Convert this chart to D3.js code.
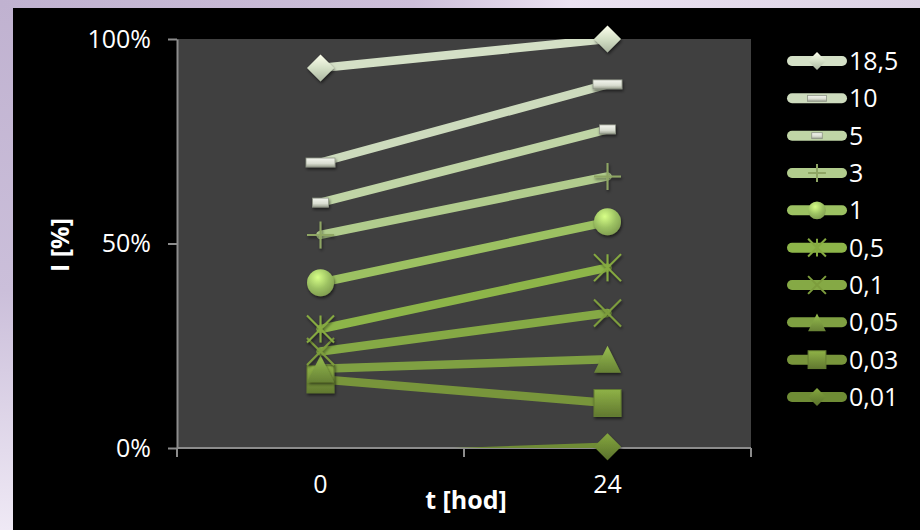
<!DOCTYPE html>
<html>
<head>
<meta charset="utf-8">
<script src="https://cdn.jsdelivr.net/npm/d3@7"></script>
<style>
  html, body { margin: 0; padding: 0; }
  svg { display: block; }
  text { font-family: "Open Sans", "Noto Sans", sans-serif; }
</style>
</head>
<body>
<svg id="chart" width="920" height="530"></svg>
<script>
// Time points (hours) on the x axis
const times = ["0", "24"];

// Series names shown in the legend
const seriesNames = ["18,5", "10", "5", "3", "1", "0,5", "0,1", "0,05", "0,03", "0,01"];

// Inhibition (fraction) per series at t = 0 and t = 24
const v18_5 = [0.929, 1.000];
const v10   = [0.698, 0.889];
const v5    = [0.600, 0.779];
const v3    = [0.521, 0.664];
const v1    = [0.404, 0.553];
const v0_5  = [0.291, 0.441];
const v0_1  = [0.236, 0.330];
const v0_05 = [0.194, 0.217];
const v0_03 = [0.168, 0.110];
const v0_01 = [-0.022, 0.003];
const seriesValues = [v18_5, v10, v5, v3, v1, v0_5, v0_1, v0_05, v0_03, v0_01];

// Line colours, pale to dark green
const seriesColors = ["#d4e0c6", "#cddbbd", "#c0d5a6", "#b1cc8d", "#9cc162",
                      "#8db549", "#85a945", "#7fa042", "#78953b", "#6f8c35"];
const seriesMarkers = ["diamond", "dash", "shortdash", "plus", "circle",
                       "star", "x", "triangle", "square", "diamond"];

// Y axis ticks
const yTicks = [0, 0.5, 1];
const yTickLabels = ["0%", "50%", "100%"];

const svg = d3.select("#chart");
const W = 920, H = 530;
const plot = { left: 177, right: 751, top: 39, bottom: 448 };

const x = d3.scaleBand().domain(times).range([plot.left, plot.right]);
const y = d3.scaleLinear().domain([0, 1]).range([plot.bottom, plot.top]);
const xc = d => x(d) + x.bandwidth() / 2;

const defs = svg.append("defs");

// Page background: soft lavender gradient
const bgTop = defs.append("linearGradient").attr("id", "bgTop")
  .attr("x1", "0").attr("y1", "0").attr("x2", "1").attr("y2", "0");
bgTop.append("stop").attr("offset", "0%").attr("stop-color", "#c0b2d0");
bgTop.append("stop").attr("offset", "45%").attr("stop-color", "#cdbfd9");
bgTop.append("stop").attr("offset", "62%").attr("stop-color", "#ebe2f1");
bgTop.append("stop").attr("offset", "100%").attr("stop-color", "#dcd2e4");
const bgLeft = defs.append("linearGradient").attr("id", "bgLeft")
  .attr("x1", "0").attr("y1", "0").attr("x2", "0").attr("y2", "1");
bgLeft.append("stop").attr("offset", "0%").attr("stop-color", "#c0b2d0");
bgLeft.append("stop").attr("offset", "55%").attr("stop-color", "#cbbfda");
bgLeft.append("stop").attr("offset", "100%").attr("stop-color", "#efe9f5");

svg.append("rect").attr("width", W).attr("height", H).attr("fill", "url(#bgLeft)");
svg.append("rect").attr("width", W).attr("height", 8).attr("fill", "url(#bgTop)");

// Chart panel
svg.append("rect").attr("x", 13).attr("y", 8).attr("width", W - 13).attr("height", H - 8)
  .attr("fill", "#000");

// Plot area
svg.append("rect")
  .attr("x", plot.left).attr("y", plot.top)
  .attr("width", plot.right - plot.left).attr("height", plot.bottom - plot.top)
  .attr("fill", "#404040");

defs.append("clipPath").attr("id", "plotClip")
  .append("rect")
  .attr("x", plot.left).attr("y", plot.top)
  .attr("width", plot.right - plot.left).attr("height", plot.bottom - plot.top);

// Marker shadow
const sh = defs.append("filter").attr("id", "mshadow")
  .attr("x", "-50%").attr("y", "-50%").attr("width", "200%").attr("height", "200%");
sh.append("feDropShadow").attr("dx", 1).attr("dy", 2).attr("stdDeviation", 1.6)
  .attr("flood-color", "#000").attr("flood-opacity", 0.55);

// Per-series shading gradients for markers
seriesColors.forEach((c, i) => {
  const base = d3.color(c);
  const lg = defs.append("linearGradient").attr("id", "mg" + i)
    .attr("x1", "0").attr("y1", "0").attr("x2", "0").attr("y2", "1");
  lg.append("stop").attr("offset", "0%").attr("stop-color", base.brighter(0.5));
  lg.append("stop").attr("offset", "50%").attr("stop-color", base);
  lg.append("stop").attr("offset", "100%").attr("stop-color", base.darker(0.6));
  const rg = defs.append("radialGradient").attr("id", "rg" + i)
    .attr("cx", "40%").attr("cy", "30%").attr("r", "70%");
  rg.append("stop").attr("offset", "0%").attr("stop-color", base.brighter(0.9));
  rg.append("stop").attr("offset", "60%").attr("stop-color", base);
  rg.append("stop").attr("offset", "100%").attr("stop-color", base.darker(0.5));
});
const dg = defs.append("linearGradient").attr("id", "dashGrad")
  .attr("x1", "0").attr("y1", "0").attr("x2", "0").attr("y2", "1");
dg.append("stop").attr("offset", "0%").attr("stop-color", "#f4f6ef");
dg.append("stop").attr("offset", "60%").attr("stop-color", "#d9ddd1");
dg.append("stop").attr("offset", "100%").attr("stop-color", "#9aa08f");

// Draws one marker into group g, centred at (0,0), scale k
function drawMarker(g, type, i, k) {
  const c = seriesColors[i];
  const s = 13.5 * k;
  const strokeDark = d3.color(c).darker(0.5);
  switch (type) {
    case "diamond":
      g.append("path").attr("d", `M0,${-s}L${s},0L0,${s}L${-s},0Z`)
        .attr("fill", `url(#mg${i})`);
      break;
    case "square":
      g.append("rect").attr("x", -s).attr("y", -s).attr("width", 2 * s).attr("height", 2 * s)
        .attr("fill", `url(#mg${i})`).attr("stroke", strokeDark).attr("stroke-width", 1);
      break;
    case "triangle":
      g.append("path").attr("d", `M0,${-s}L${s},${s}L${-s},${s}Z`)
        .attr("fill", `url(#mg${i})`);
      break;
    case "circle":
      g.append("circle").attr("r", s).attr("fill", `url(#rg${i})`);
      break;
    case "dash":
      g.append("rect").attr("x", -14.5 * k).attr("y", -4.5 * k)
        .attr("width", 29 * k).attr("height", 9 * k)
        .attr("fill", "url(#dashGrad)").attr("stroke", "#8e9486").attr("stroke-width", 0.8);
      break;
    case "shortdash":
      g.append("rect").attr("x", -8 * k).attr("y", -4.5 * k)
        .attr("width", 16 * k).attr("height", 9 * k)
        .attr("fill", "url(#dashGrad)").attr("stroke", "#8e9486").attr("stroke-width", 0.8);
      break;
    case "plus":
      g.append("path").attr("d", `M${-s},0H${s}M0,${-s}V${s}`)
        .attr("stroke", "#8ea564").attr("stroke-width", 2).attr("fill", "none");
      break;
    case "x":
      g.append("path").attr("d", `M${-s},${-s}L${s},${s}M${-s},${s}L${s},${-s}`)
        .attr("stroke", "#7d9d3d").attr("stroke-width", 2).attr("fill", "none");
      break;
    case "star":
      g.append("path").attr("d", `M${-s},${-s}L${s},${s}M${-s},${s}L${s},${-s}M0,${-s}V${s}`)
        .attr("stroke", "#86ab40").attr("stroke-width", 2).attr("fill", "none");
      break;
  }
}

// Axes
const axisColor = "#8c8c8c";
const yAxis = d3.axisLeft(y).tickValues(yTicks)
  .tickFormat((d, i) => yTickLabels[i]).tickSize(9).tickSizeOuter(0).tickPadding(17);
const yg = svg.append("g").attr("transform", `translate(${plot.left},0)`).call(yAxis);
yg.select(".domain").attr("stroke", axisColor).attr("stroke-width", 2);
yg.selectAll(".tick line").attr("stroke", axisColor).attr("stroke-width", 2);
yg.selectAll(".tick text").attr("fill", "#fff").attr("font-size", 25)
  .attr("font-family", "'Open Sans', sans-serif");

// X axis: line, tick marks at category boundaries, centred labels
const xBounds = times.map(t => x(t)).concat([x(times[times.length - 1]) + x.bandwidth()]);
const xg = svg.append("g");
xg.append("line").attr("x1", plot.left).attr("x2", plot.right)
  .attr("y1", plot.bottom).attr("y2", plot.bottom)
  .attr("stroke", axisColor).attr("stroke-width", 2);
xg.selectAll("line.tk").data(xBounds).join("line").attr("class", "tk")
  .attr("x1", d => d).attr("x2", d => d)
  .attr("y1", plot.bottom).attr("y2", plot.bottom + 9)
  .attr("stroke", axisColor).attr("stroke-width", 2);
xg.selectAll("text").data(times).join("text")
  .attr("x", d => xc(d)).attr("y", plot.bottom + 45)
  .attr("text-anchor", "middle").attr("fill", "#fff").attr("font-size", 25)
  .text(d => d);

// Axis titles
svg.append("text").attr("x", 466).attr("y", 509).attr("text-anchor", "middle")
  .attr("fill", "#fff").attr("font-size", 25).attr("font-weight", "bold").text("t [hod]");
svg.append("text").attr("transform", "translate(69,245) rotate(-90)")
  .attr("text-anchor", "middle").attr("fill", "#fff").attr("font-size", 25)
  .attr("font-weight", "bold").text("I [%]");

// Series, darkest first so the paler ones sit on top
const order = d3.range(seriesNames.length).reverse();
const lineGen = d3.line().x((d, j) => xc(times[j])).y(d => y(d));

const linesG = svg.append("g").attr("clip-path", "url(#plotClip)");
order.forEach(i => {
  linesG.append("path").datum(seriesValues[i])
    .attr("d", lineGen).attr("fill", "none")
    .attr("stroke", seriesColors[i]).attr("stroke-width", 8.5)
    .attr("stroke-linecap", "round").attr("stroke-linejoin", "round");
});

const markersG = svg.append("g");
order.forEach(i => {
  seriesValues[i].forEach((v, j) => {
    if (v < 0 || v > 1) return;
    const g = markersG.append("g")
      .attr("transform", `translate(${xc(times[j])},${y(v)})`)
      .attr("filter", "url(#mshadow)");
    drawMarker(g, seriesMarkers[i], i, 1);
  });
});

// Legend
const legend = svg.append("g");
const legY = d3.scalePoint().domain(seriesNames).range([61, 397]);
seriesNames.forEach((name, i) => {
  const yy = legY(name);
  const g = legend.append("g").attr("transform", `translate(0,${yy})`);
  g.append("line").attr("x1", 792).attr("x2", 842).attr("y1", 0).attr("y2", 0)
    .attr("stroke", seriesColors[i]).attr("stroke-width", 10).attr("stroke-linecap", "round");
  const mg = g.append("g").attr("transform", "translate(817,0)");
  drawMarker(mg, seriesMarkers[i], i, 0.66);
  g.append("text").attr("x", 849).attr("y", 9).attr("fill", "#fff")
    .attr("font-size", 25).text(name);
});
</script>
</body>
</html>
